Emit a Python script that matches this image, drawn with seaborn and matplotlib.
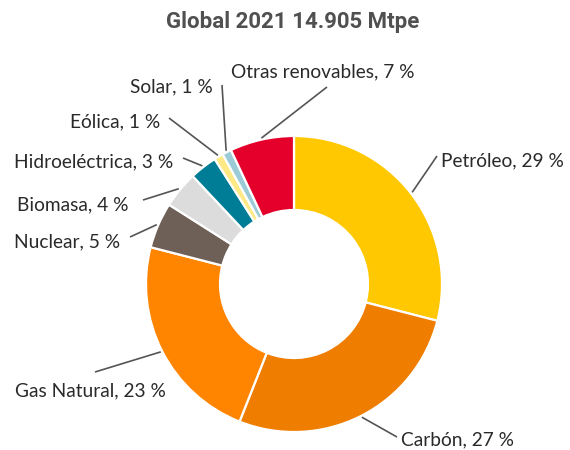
import matplotlib
matplotlib.use("Agg")
import matplotlib.pyplot as plt
import seaborn as sns
import numpy as np

# Data
categories = ["Petróleo", "Carbón", "Gas Natural", "Nuclear", "Biomasa",
              "Hidroeléctrica", "Eólica", "Solar", "Otras renovables"]
shares = [29, 27, 23, 5, 4, 3, 1, 1, 7]
colors = ["#FFC800", "#EF7D00", "#FF8400", "#6E5F57", "#DCDCDC",
          "#007D96", "#FFE985", "#9CCBD8", "#E4002B"]
title = "Global 2021 14.905 Mtpe"

sns.set_theme(style="white")
plt.rcParams['font.family'] = ['Lato', 'DejaVu Sans']

W, H = 570, 450
CX, CY, R = 294, 284, 148

def P(px, py):
    return ((px - CX) / R, (CY - py) / R)

fig = plt.figure(figsize=(W / 100, H / 100), dpi=100)
ax = fig.add_axes([0, 0, 1, 1])

wedges, _ = ax.pie(shares, colors=colors, startangle=90, counterclock=False,
                   radius=1.0,
                   wedgeprops=dict(width=0.5, edgecolor="white", linewidth=1.6))
ax.set_aspect("auto")
ax.set_xlim(-CX / R, (W - CX) / R)
ax.set_ylim(-(H - CY) / R, CY / R)
ax.axis("off")

# label layout (pixel positions): text anchor (left, center) and leader end
text_pos = [(441, 161), (401, 440), (15, 391), (14, 242), (17, 205),
            (14, 162), (70, 122), (130, 87), (231, 72)]
line_end = [(437, 156), (397, 437), (95, 372), (130, 237), (143, 200),
            (183, 158), (169, 118), (222, 85), (327, 87)]

for w, cat, val, tp, le in zip(wedges, categories, shares, text_pos, line_end):
    ang = np.deg2rad((w.theta1 + w.theta2) / 2)
    sx, sy = 1.01 * np.cos(ang), 1.01 * np.sin(ang)
    ex, ey = P(*le)
    ax.plot([sx, ex], [sy, ey], color="#555555", lw=1.2, solid_capstyle="butt")
    tx, ty = P(*tp)
    ax.text(tx, ty, f"{cat}, {val} %", ha="left", va="center",
            fontsize=13.8, color="#2a2a2a", fontweight="normal")

tx, ty = P(293, 22)
ax.text(tx, ty, title, ha="center", va="center", fontsize=16,
        fontweight="bold", color="#505050", family=["Roboto", "DejaVu Sans"])

fig.savefig("out.png", dpi=100)
